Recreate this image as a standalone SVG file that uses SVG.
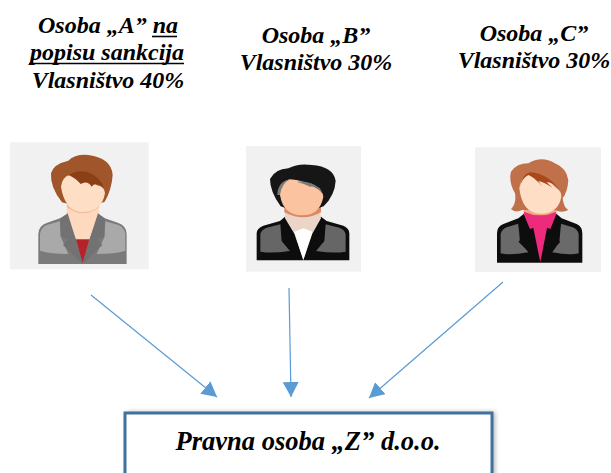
<svg xmlns="http://www.w3.org/2000/svg" width="611" height="473" viewBox="0 0 611 473">
<style>
text{font-family:"Liberation Serif","Times New Roman",serif;font-weight:bold;font-style:italic;font-size:24px;fill:#000;text-anchor:middle}
.bg{fill:#f1f1f1}
.conn{stroke:#5b9bd5;stroke-width:1.2;fill:none}
.ul{stroke:#000;stroke-width:1.6}
</style>
<defs>
<marker id="arrow" markerUnits="userSpaceOnUse" markerWidth="16" markerHeight="16" refX="15" refY="8" orient="auto">
<path d="M0 0L15 8L0 16Z" fill="#5b9bd5"/>
</marker>
<filter id="soft" x="-5%" y="-5%" width="110%" height="110%"><feGaussianBlur stdDeviation="1.2"/></filter>
<filter id="shadow" x="-5%" y="-20%" width="110%" height="140%"><feGaussianBlur stdDeviation="2.5"/></filter>
</defs>
<rect width="611" height="473" fill="#fff"/>

<g id="person-a">
<g transform="translate(0 130) scale(.3333)">
<rect class="bg" x="30" y="37" width="416" height="381"/>
<g filter="url(#soft)">
<path d="M115 402V312Q115 288 140 279L180 265L205 250H292L315 265L355 279Q380 288 380 312V402Z" fill="#7a7a7a"/>
<path d="M120 362V312Q122 292 142 284L180 274L183 322L205 372Q150 372 120 362Z" fill="#a9a9a9"/>
<path d="M376 362V312Q374 292 354 284L316 274L313 322L290 372Q345 372 376 362Z" fill="#a9a9a9"/>
<path d="M203 222H294L298 252L268 330H228L198 252Z" fill="#fdd9c0"/>
<path d="M228 328H268L248 400Z" fill="#b5242a"/>
<path d="M203 250L180 268L182 320L206 327L189 345L248 402L228 330Z" fill="#727272"/>
<path d="M294 250L315 268L313 320L290 327L307 345L248 402L268 330Z" fill="#727272"/>
<path d="M186 217Q150 172 153 130Q160 102 205 92Q225 72 265 75Q335 85 338 135Q335 180 314 215Q250 240 186 217Z" fill="#a0552a"/>
<path d="M200 232Q250 268 298 232L296 215H202Z" fill="#f4bd96"/>
<path d="M183 170Q186 142 208 135Q260 140 290 165Q315 170 315 190Q305 246 250 246Q195 246 183 170Z" fill="#fedfc6"/>
<path d="M205 135Q240 115 272 130Q300 145 312 172Q285 155 275 170Q262 150 242 162Q228 145 205 135Z" fill="#8a4018"/>
</g>
</g>
</g>

<g id="person-b">
<g transform="translate(235 135) scale(.3333)">
<rect class="bg" x="33" y="33" width="345" height="377"/>
<g filter="url(#soft)">
<path d="M65 376V295Q65 280 85 272L135 258L150 245H258L275 258L325 272Q343 280 343 295V376Z" fill="#0a0a0a"/>
<path d="M76 350V298Q78 284 95 278L136 268L140 318L165 348Q110 356 76 350Z" fill="#666"/>
<path d="M332 350V298Q330 284 313 278L272 268L268 318L243 348Q298 356 332 350Z" fill="#666"/>
<path d="M150 225H255L258 250L232 296L205 375L178 296L150 250Z" fill="#ead5c8"/>
<path d="M178 290L205 280L232 290L205 375Z" fill="#fff"/>
<path d="M148 215H258V232Q205 262 148 232Z" fill="#d98a63"/>
<path d="M137 214Q105 170 105 132Q120 102 160 100Q190 84 230 90Q295 95 302 137Q300 180 266 214Q200 240 137 214Z" fill="#151515"/>
<path d="M135 180Q135 140 165 133Q205 135 245 160Q265 170 265 185Q255 241 200 241Q145 241 135 180Z" fill="#fcc3a0"/>
<path d="M127 180Q128 140 165 133Q140 145 135 180ZM185 140Q225 135 255 160L265 180Q245 150 225 155Q205 145 185 140Z" fill="#7a7a7a"/>
</g>
</g>
</g>

<g id="person-c">
<g transform="translate(465 135) scale(.3333)">
<rect class="bg" x="30" y="37" width="378" height="374"/>
<g filter="url(#soft)">
<path d="M96 383V295Q96 275 115 267L160 250L176 237H275L290 250L335 267Q352 275 352 295V383Z" fill="#111"/>
<path d="M107 355V298Q109 284 125 277L160 266L165 322L190 352Q135 362 107 355Z" fill="#6a6a6a"/>
<path d="M341 355V298Q339 284 323 277L288 266L283 322L262 352Q315 362 341 355Z" fill="#6a6a6a"/>
<path d="M178 222H273L274 238L226 382L176 238Z" fill="#ee2a7b"/>
<path d="M176 238L195 282L205 278L226 382L160 320L172 310L160 270Z" fill="#111"/>
<path d="M274 238L256 282L246 278L226 382L286 320L272 310L288 270Z" fill="#111"/>
<path d="M176 218H274V230Q226 252 176 230Z" fill="#f0a87e"/>
<path d="M150 175Q130 140 138 110Q155 85 190 85Q230 60 270 85Q305 100 310 135Q308 170 293 190Q296 218 310 225Q290 235 270 225H172Q150 235 138 222Q155 205 150 175Z" fill="#c0714a"/>
<path d="M163 160Q165 128 190 118Q240 120 275 160Q290 170 289 185Q280 236 226 236Q172 236 163 160Z" fill="#fedfc6"/>
<path d="M163 160Q170 118 195 112Q250 115 288 170Q265 140 245 142L262 158Q235 140 220 138L232 155Q210 128 190 120Q170 130 163 160Z" fill="#a8481e"/>
</g>
</g>
</g>

<g id="connectors">
<line class="conn" x1="91" y1="295" x2="217" y2="397" marker-end="url(#arrow)"/>
<line class="conn" x1="289" y1="288" x2="291" y2="397" marker-end="url(#arrow)"/>
<line class="conn" x1="503" y1="282" x2="369" y2="398" marker-end="url(#arrow)"/>
</g>

<g id="label-a">
<text x="108" y="33">Osoba „A” <tspan>na</tspan></text>
<line class="ul" x1="152" y1="36.5" x2="177" y2="36.5"/>
<text x="107" y="60">popisu sankcija</text>
<line class="ul" x1="29" y1="63.5" x2="184" y2="63.5"/>
<text x="108" y="88">Vlasništvo 40%</text>
</g>
<g id="label-b">
<text x="316" y="43">Osoba „B”</text>
<text x="316" y="70">Vlasništvo 30%</text>
</g>
<g id="label-c">
<text x="534" y="41">Osoba „C”</text>
<text x="534" y="68">Vlasništvo 30%</text>
</g>

<g id="company">
<rect x="127" y="412" width="368" height="70" fill="#555" opacity=".45" filter="url(#shadow)"/>
<rect x="125" y="413" width="367" height="70" fill="#fff" stroke="#41719c" stroke-width="3"/>
<text x="308" y="450" style="font-size:26.5px">Pravna osoba „Z” d.o.o.</text>
</g>
</svg>
